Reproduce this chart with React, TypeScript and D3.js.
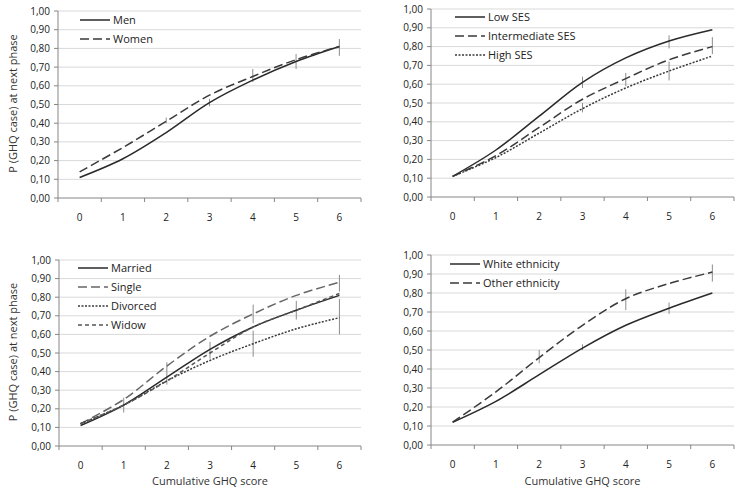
import React from "react";
import * as d3 from "d3";

// x categories and y ticks
const scores = ["0", "1", "2", "3", "4", "5", "6"];
const yTicks = [0, 0.1, 0.2, 0.3, 0.4, 0.5, 0.6, 0.7, 0.8, 0.9, 1.0];

// panel 1: sex
const men = [0.11, 0.21, 0.35, 0.51, 0.63, 0.73, 0.81];
const menLo = [null, null, null, 0.49, null, null, null];
const menHi = [null, null, null, 0.53, null, null, null];
const women = [0.14, 0.27, 0.41, 0.55, 0.65, 0.74, 0.81];
const womenLo = [null, null, 0.4, null, 0.62, 0.69, 0.76];
const womenHi = [null, null, 0.43, null, 0.69, 0.77, 0.85];

// panel 2: SES
const lowSes = [0.11, 0.25, 0.43, 0.61, 0.74, 0.83, 0.89];
const lowSesLo = [null, null, null, 0.58, null, 0.79, null];
const lowSesHi = [null, null, null, 0.64, null, 0.86, null];
const midSes = [0.11, 0.22, 0.37, 0.52, 0.63, 0.73, 0.8];
const midSesLo = [null, null, null, null, 0.59, null, 0.76];
const midSesHi = [null, null, null, null, 0.66, null, 0.85];
const highSes = [0.11, 0.21, 0.34, 0.47, 0.58, 0.67, 0.75];
const highSesLo = [null, null, null, 0.45, null, 0.62, null];
const highSesHi = [null, null, null, 0.5, null, 0.72, null];

// panel 3: marital status
const married = [0.11, 0.22, 0.37, 0.52, 0.64, 0.73, 0.81];
const marriedLo = [null, 0.18, 0.33, 0.47, null, 0.68, null];
const marriedHi = [null, 0.26, 0.45, 0.56, null, 0.78, null];
const single = [0.12, 0.25, 0.43, 0.59, 0.71, 0.81, 0.88];
const singleLo = [null, null, null, null, 0.66, null, 0.83];
const singleHi = [null, null, null, null, 0.76, null, 0.92];
const divorced = [0.12, 0.22, 0.35, 0.46, 0.55, 0.63, 0.69];
const divorcedLo = [null, null, null, null, 0.48, null, 0.6];
const divorcedHi = [null, null, null, null, 0.62, null, 0.79];
const widow = [0.12, 0.22, 0.35, 0.5, 0.64, 0.73, 0.82];
const widowLo = [null, null, null, null, null, null, null];
const widowHi = [null, null, null, null, null, null, null];

// panel 4: ethnicity
const white = [0.12, 0.23, 0.37, 0.51, 0.63, 0.72, 0.8];
const whiteLo = [null, null, null, 0.5, null, 0.69, null];
const whiteHi = [null, null, null, 0.53, null, 0.75, null];
const other = [0.12, 0.28, 0.46, 0.63, 0.77, 0.85, 0.91];
const otherLo = [null, null, 0.43, null, 0.71, null, 0.86];
const otherHi = [null, null, 0.5, null, 0.82, null, 0.95];

type Series = {
  name: string;
  values: number[];
  lo: (number | null)[];
  hi: (number | null)[];
  dash: string;
  color: string;
};

type PanelDef = {
  left: number;
  right: number;
  top: number;
  bottom: number;
  yTitle: boolean;
  xTitle: boolean;
  legendX: number;
  legendY: number;
  series: Series[];
};

const FONT = "'Open Sans', 'Liberation Sans', sans-serif";

const panels: PanelDef[] = [
  {
    left: 58, right: 361, top: 11, bottom: 198, yTitle: true, xTitle: false,
    legendX: 80, legendY: 20,
    series: [
      { name: "Men", values: men, lo: menLo, hi: menHi, dash: "", color: "#2a2a2a" },
      { name: "Women", values: women, lo: womenLo, hi: womenHi, dash: "9,4", color: "#3a3a3a" },
    ],
  },
  {
    left: 431, right: 734, top: 9, bottom: 197, yTitle: false, xTitle: false,
    legendX: 455, legendY: 17,
    series: [
      { name: "Low SES", values: lowSes, lo: lowSesLo, hi: lowSesHi, dash: "", color: "#2a2a2a" },
      { name: "Intermediate SES", values: midSes, lo: midSesLo, hi: midSesHi, dash: "9,4", color: "#3a3a3a" },
      { name: "High SES", values: highSes, lo: highSesLo, hi: highSesHi, dash: "2,1.5", color: "#3a3a3a" },
    ],
  },
  {
    left: 59, right: 361, top: 260, bottom: 446, yTitle: true, xTitle: true,
    legendX: 78, legendY: 268,
    series: [
      { name: "Married", values: married, lo: marriedLo, hi: marriedHi, dash: "", color: "#2a2a2a" },
      { name: "Single", values: single, lo: singleLo, hi: singleHi, dash: "9,4", color: "#666" },
      { name: "Divorced", values: divorced, lo: divorcedLo, hi: divorcedHi, dash: "2,1.5", color: "#3a3a3a" },
      { name: "Widow", values: widow, lo: widowLo, hi: widowHi, dash: "4,3", color: "#555" },
    ],
  },
  {
    left: 431, right: 734, top: 255, bottom: 445, yTitle: false, xTitle: true,
    legendX: 450, legendY: 264,
    series: [
      { name: "White ethnicity", values: white, lo: whiteLo, hi: whiteHi, dash: "", color: "#2a2a2a" },
      { name: "Other ethnicity", values: other, lo: otherLo, hi: otherHi, dash: "9,4", color: "#3a3a3a" },
    ],
  },
];

function Panel({ p }: { p: PanelDef }) {
  const x = d3.scaleBand<string>().domain(scores).range([p.left, p.right]);
  const y = d3.scaleLinear().domain([0, 1]).range([p.bottom, p.top]);
  const cx = (i: number) => (x(scores[i]) as number) + x.bandwidth() / 2;
  const line = d3
    .line<number>()
    .x((_, i) => cx(i))
    .y((d) => y(d))
    .curve(d3.curveCatmullRom);
  const bounds = scores.map((s) => x(s) as number).concat([p.right]);

  return (
    <g>
      {yTicks.map((t) => (
        <g key={t}>
          {t > 0 && (
            <line x1={p.left} x2={p.right} y1={y(t)} y2={y(t)} stroke="#d9d9d9" strokeWidth={1} />
          )}
          <line x1={p.left - 4} x2={p.left} y1={y(t)} y2={y(t)} stroke="#868686" />
          <text
            x={p.left - 8}
            y={y(t)}
            dy="0.35em"
            textAnchor="end"
            fontSize={10}
            fill="#222"
            fontFamily={FONT}
          >
            {t.toFixed(2).replace(".", ",")}
          </text>
        </g>
      ))}
      <line x1={p.left} x2={p.left} y1={p.top} y2={p.bottom} stroke="#868686" />
      <line x1={p.left} x2={p.right} y1={p.bottom} y2={p.bottom} stroke="#868686" />
      {bounds.map((b, i) => (
        <line key={i} x1={b} x2={b} y1={p.bottom} y2={p.bottom + 4} stroke="#868686" />
      ))}
      {scores.map((s, i) => (
        <text
          key={s}
          x={cx(i)}
          y={p.bottom + 19}
          dy="0.35em"
          textAnchor="middle"
          fontSize={10}
          fill="#222"
          fontFamily={FONT}
        >
          {s}
        </text>
      ))}
      {p.series.map((s) => (
        <g key={s.name + "-err"}>
          {s.values.map((_, i) =>
            s.lo[i] != null && s.hi[i] != null ? (
              <line
                key={i}
                x1={cx(i)}
                x2={cx(i)}
                y1={y(s.lo[i] as number)}
                y2={y(s.hi[i] as number)}
                stroke="#8c8c8c"
                strokeWidth={1}
              />
            ) : null,
          )}
        </g>
      ))}
      {p.series.map((s) => (
        <path
          key={s.name}
          d={line(s.values) || ""}
          fill="none"
          stroke={s.color}
          strokeWidth={1.5}
          strokeDasharray={s.dash || undefined}
        />
      ))}
      {p.series.map((s, k) => {
        const ly = p.legendY + k * 19;
        return (
          <g key={s.name + "-leg"}>
            <line
              x1={p.legendX}
              x2={p.legendX + 30}
              y1={ly}
              y2={ly}
              stroke={s.color}
              strokeWidth={1.5}
              strokeDasharray={s.dash || undefined}
            />
            <text
              x={p.legendX + 33}
              y={ly}
              dy="0.35em"
              fontSize={11}
              fill="#222"
              fontFamily={FONT}
            >
              {s.name}
            </text>
          </g>
        );
      })}
      {p.yTitle && (
        <text
          transform={`translate(13,${(p.top + p.bottom) / 2 - 1}) rotate(-90)`}
          textAnchor="middle"
          dy="0.35em"
          fontSize={11}
          fill="#333"
          fontFamily={FONT}
        >
          P (GHQ case) at next phase
        </text>
      )}
      {p.xTitle && (
        <text
          x={(p.left + p.right) / 2}
          y={481}
          dy="0.35em"
          textAnchor="middle"
          fontSize={11}
          fill="#333"
          fontFamily={FONT}
        >
          Cumulative GHQ score
        </text>
      )}
    </g>
  );
}

export default function App() {
  return (
    <svg
      width={743}
      height={492}
      style={{ position: "absolute", left: 0, top: 0, background: "#fff" }}
    >
      <rect width={743} height={492} fill="#fff" />
      {panels.map((p, i) => (
        <Panel key={i} p={p} />
      ))}
    </svg>
  );
}
